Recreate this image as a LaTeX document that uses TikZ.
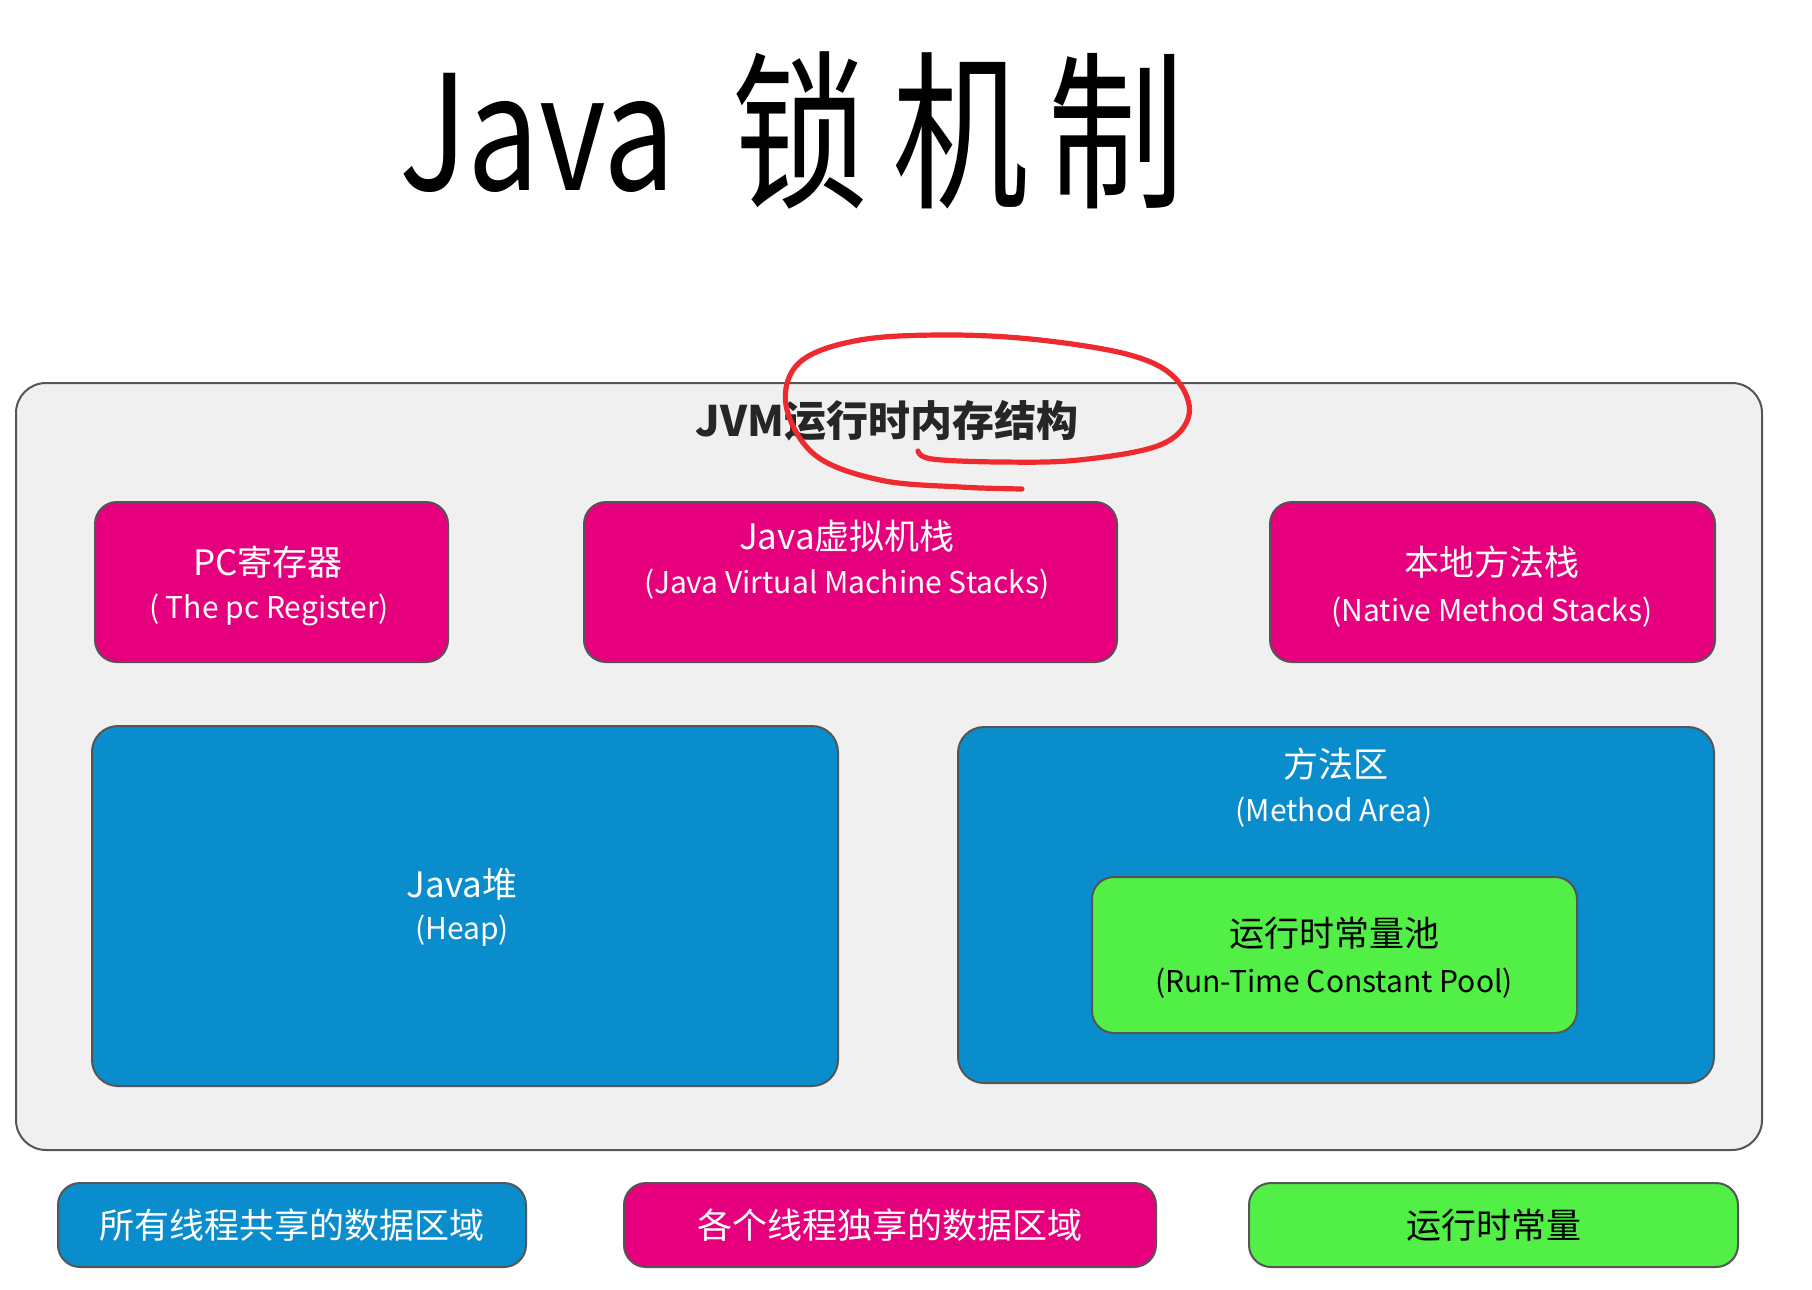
\documentclass[tikz,border=0pt]{standalone}
\usepackage{fontspec}
\newfontfamily\cn{Noto Sans CJK SC}
\newfontfamily\titlecn[FakeStretch=0.8]{Noto Sans CJK SC}
\usetikzlibrary{decorations.pathmorphing}
\definecolor{pinkc}{HTML}{E6007E}
\definecolor{bluec}{HTML}{0A8DCC}
\definecolor{greenc}{HTML}{52F046}
\definecolor{framec}{HTML}{F0F0F0}
\definecolor{edgec}{HTML}{555555}
\definecolor{loopc}{HTML}{EE2A2E}
\tikzset{
  framebox/.style={draw=edgec, line width=1pt, rounded corners=15pt, fill=framec, inner sep=0},
  pinkbox/.style={draw=edgec, line width=1pt, rounded corners=11pt, fill=pinkc, inner sep=0},
  bluebox/.style={draw=edgec, line width=1pt, rounded corners=13pt, fill=bluec, inner sep=0},
  greenbox/.style={draw=edgec, line width=1pt, rounded corners=11pt, fill=greenc, inner sep=0},
  legendbox/.style={draw=edgec, line width=1pt, rounded corners=11pt, inner sep=0, minimum height=42pt},
  zhtext/.style={font=\cn\fontsize{17.5}{20}\selectfont, inner sep=0, text=white},
  entext/.style={font=\cn\fontsize{15}{18}\selectfont, inner sep=0, text=white},
  legtext/.style={font=\cn\fontsize{17.5}{20}\selectfont, inner sep=0},
  titletext/.style={font=\titlecn\fontsize{80}{90}\selectfont, inner sep=0, anchor=base west}
}
\begin{document}
\begin{tikzpicture}[x=0.5pt,y=-0.5pt]
\useasboundingbox[fill=white] (0,0) rectangle (1812,1290);

% title
\node[titletext] (tjava) at (399,190) {Java};
\node[titletext, font=\titlecn\fontsize{85}{95}\selectfont] (tcn) at (732,195) {锁\hspace{12pt}机\hspace{10pt}制};

% outer frame
\node[framebox, minimum width=873pt, minimum height=383.5pt] (frame) at (889,766.5) {};
\node[font=\cn\bfseries\fontsize{21}{24}\selectfont, text=black!85, inner sep=0] (jvmt) at (887,421) {JVM运行时内存结构};

% thread-private areas
\node[pinkbox, minimum width=176.5pt, minimum height=80pt] (pc) at (271.5,582) {};
\node[pinkbox, minimum width=266.5pt, minimum height=80pt] (jvms) at (850.5,582) {};
\node[pinkbox, minimum width=222.5pt, minimum height=80pt] (nms) at (1492.5,582) {};

\node[zhtext] (pc1) at (268,562) {PC寄存器};
\node[entext] (pc2) at (269,610) {( The pc Register)};
\node[zhtext] (jvms1) at (847,536) {Java虚拟机栈};
\node[entext] (jvms2) at (847,584) {(Java Virtual Machine Stacks)};
\node[zhtext] (nms1) at (1492,562) {本地方法栈};
\node[entext] (nms2) at (1492,612) {(Native Method Stacks)};

% shared areas
\node[bluebox, minimum width=373pt, minimum height=180pt] (heap) at (465,906) {};
\node[zhtext] (heap1) at (462,884) {Java堆};
\node[entext] (heap2) at (462,931) {(Heap)};

\node[bluebox, minimum width=378pt, minimum height=178pt] (ma) at (1336,905) {};
\node[zhtext] (ma1) at (1336,764) {方法区};
\node[entext] (ma2) at (1334,812) {(Method Area)};

\node[greenbox, minimum width=242.5pt, minimum height=78pt] (rtcp) at (1334.5,955) {};
\node[zhtext, text=black] (rtcp1) at (1334,933) {运行时常量池};
\node[entext, text=black] (rtcp2) at (1334,983) {(Run-Time Constant Pool)};

% legend
\node[legendbox, fill=bluec, minimum width=234pt] (lg1) at (292,1225) {};
\node[legendbox, fill=pinkc, minimum width=266pt] (lg2) at (890,1225) {};
\node[legendbox, fill=greenc, minimum width=244.5pt] (lg3) at (1493.5,1225) {};
\node[legtext, text=white] (lg1t) at (lg1) {所有线程共享的数据区域};
\node[legtext, text=white] (lg2t) at (lg2) {各个线程独享的数据区域};
\node[legtext, text=black] (lg3t) at (lg3) {运行时常量};

% red hand-drawn loop
\draw[loopc, line width=2.6pt, line cap=round, line join=round]
  plot[smooth, tension=0.6] coordinates {(918,451) (932,459) (1000,462) (1079,460) (1160,445) (1189,415) (1175,378) (1130,355) (1040,340) (950,335) (860,340) (800,362) (786,405) (815,455) (880,480) (960,487) (1022,489)};
\end{tikzpicture}
\end{document}
